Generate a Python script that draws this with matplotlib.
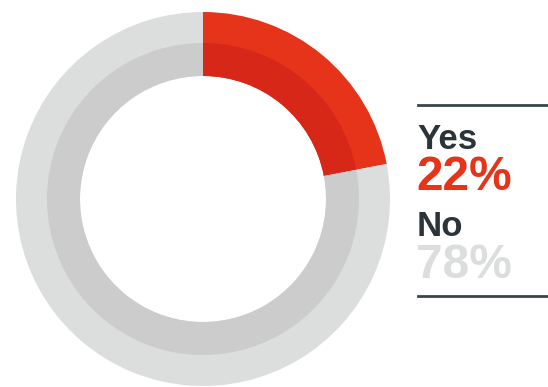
import matplotlib.pyplot as plt

# Survey answers
labels = ['Yes', 'No']
shares = [22, 78]

# Ring colours: outer band lighter, inner band darker
outer_colors = ['#E5341A', '#DCDDDD']
inner_colors = ['#D72718', '#CCCCCC']
value_colors = ['#E5341A', '#DCDDDD']
DARK = '#2B3539'

W, H = 548, 387
fig = plt.figure(figsize=(W / 100, H / 100), dpi=100)

# Donut placed in pixel coords: centre (203, 199), radius 187
cx, cy, r = 203, 199, 187
r_mid, r_in = 156, 123
ax = fig.add_axes([(cx - r) / W, (H - cy - r) / H, 2 * r / W, 2 * r / H])
# outer band drawn full-width underneath so no seam shows between the bands
ax.pie(shares, radius=1.0, colors=outer_colors, startangle=90,
       counterclock=False, wedgeprops=dict(width=(r - r_in) / r, linewidth=0))
ax.pie(shares, radius=r_mid / r, colors=inner_colors, startangle=90,
       counterclock=False, wedgeprops=dict(width=(r_mid - r_in) / r, linewidth=0))
ax.set_xlim(-1, 1)
ax.set_ylim(-1, 1)
ax.set_aspect('equal')
ax.axis('off')

# Legend block on the right
def px(x, y):
    return x / W, 1 - y / H

fig.add_artist(plt.Line2D([418 / W, 1], [1 - 105 / H] * 2, color='#3A4449', lw=2))
fig.add_artist(plt.Line2D([418 / W, 1], [1 - 296 / H] * 2, color='#3A4449', lw=2))

font = 'Liberation Sans'
rows = [(149, 190), (236, 278)]
for (lab_y, val_y), lab, val, col in zip(rows, labels, shares, value_colors):
    fig.text(*px(417, lab_y), lab, fontsize=25, fontweight='bold',
             color=DARK, family=font, va='baseline', ha='left')
    fig.text(*px(416, val_y), f'{val}%', fontsize=34.5, fontweight='bold',
             color=col, family=font, va='baseline', ha='left')

fig.savefig('out.png', dpi=100)
